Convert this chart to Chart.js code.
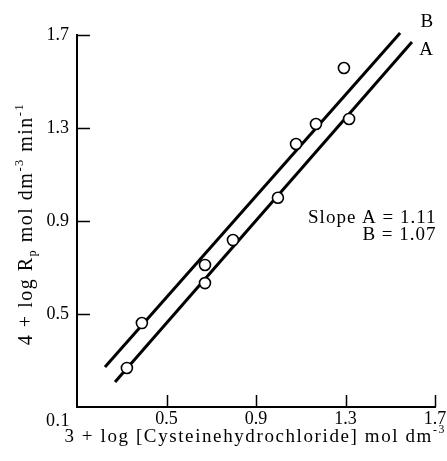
<!DOCTYPE html>
<html>
<head>
<meta charset="utf-8">
<script src="https://cdn.jsdelivr.net/npm/chart.js@4.4.1/dist/chart.umd.min.js"></script>
<style>
  html, body { margin: 0; padding: 0; background: #fff; }
  #wrap { width: 447px; height: 461px; }
</style>
</head>
<body>
<div id="wrap"><canvas id="rpChart" width="447" height="461"></canvas></div>
<script>
// --- DATA ---
const xTicks = [0.1, 0.5, 0.9, 1.3, 1.7];
const yTicks = [0.1, 0.5, 0.9, 1.3, 1.7];

// open circles, series A (lower line) and B (upper line)
const pointsAX = [0.323, 0.672, 0.797, 0.998, 1.316];
const pointsAY = [0.268, 0.633, 0.818, 1.000, 1.339];
const pointsBX = [0.390, 0.672, 1.079, 1.168, 1.293];
const pointsBY = [0.461, 0.711, 1.231, 1.317, 1.558];

// fitted lines, end points
const lineAX = [0.270, 1.597];
const lineAY = [0.208, 1.670];
const lineBX = [0.225, 1.544];
const lineBY = [0.272, 1.709];

const slopeA = '1.11';
const slopeB = '1.07';

const FONT = '"Liberation Serif", "Times New Roman", serif';
const toXY = (xs, ys) => xs.map((x, i) => ({ x, y: ys[i] }));

// --- PLUGINS ---
const inwardTicks = {
    id: 'inwardTicks',
    afterDatasetsDraw(chart) {
        const { ctx, chartArea: a, scales: { x, y } } = chart;
        ctx.save();
        ctx.strokeStyle = '#000';
        ctx.lineWidth = 1.5;
        ctx.beginPath();
        xTicks.slice(1).forEach(v => {
            const px = Math.round(x.getPixelForValue(v)) + 0.5;
            ctx.moveTo(px, a.bottom); ctx.lineTo(px, a.bottom - 12);
        });
        yTicks.slice(1).forEach(v => {
            const py = Math.round(y.getPixelForValue(v)) + 0.5;
            ctx.moveTo(a.left, py); ctx.lineTo(a.left + 13, py);
        });
        ctx.stroke();
        ctx.restore();
    }
};

// text with sub/superscript pieces: [text, shift] where shift 0 normal, -1 sup, 1 sub
function drawRich(ctx, parts, x, y, size) {
    let cx = x;
    parts.forEach(([t, s]) => {
        const fs = s === 0 ? size : size * 0.62;
        ctx.font = `${fs}px ${FONT}`;
        const dy = s === -1 ? -size * 0.45 : (s === 1 ? size * 0.22 : 0);
        ctx.fillText(t, cx, y + dy);
        cx += ctx.measureText(t).width;
    });
    return cx - x;
}

function richWidth(ctx, parts, size) {
    let w = 0;
    parts.forEach(([t, s]) => {
        ctx.font = `${s === 0 ? size : size * 0.62}px ${FONT}`;
        w += ctx.measureText(t).width;
    });
    return w;
}

const labels = {
    id: 'labels',
    afterDraw(chart) {
        const { ctx, chartArea: a, scales: { x, y } } = chart;
        ctx.save();
        ctx.fillStyle = '#000';
        ctx.textBaseline = 'alphabetic';

        // corner tick label shared by both axes
        ctx.letterSpacing = '0.5px';
        ctx.font = `18px ${FONT}`;
        ctx.textAlign = 'center';
        ctx.fillText('0.1', a.left - 19, a.bottom + 19);

        // x title
        ctx.letterSpacing = '1.6px';
        ctx.textAlign = 'left';
        const xParts = [['3 + log [Cysteinehydrochloride] mol dm', 0], ['-3', -1]];
        const xw = richWidth(ctx, xParts, 19);
        drawRich(ctx, xParts, 446 - xw, 442, 19);

        // y title (rotated)
        ctx.letterSpacing = '1.5px';
        const yParts = [['4 + log R', 0], ['p', 1], [' mol dm', 0], ['-3', -1], [' min', 0], ['-1', -1]];
        const yw = richWidth(ctx, yParts, 20);
        ctx.save();
        ctx.translate(32, 224);
        ctx.rotate(-Math.PI / 2);
        drawRich(ctx, yParts, -yw / 2, 0, 20);
        ctx.restore();

        // line labels
        ctx.letterSpacing = '0px';
        ctx.font = `19px ${FONT}`;
        ctx.textAlign = 'center';
        ctx.fillText('B', x.getPixelForValue(1.664), y.getPixelForValue(1.734));
        ctx.fillText('A', x.getPixelForValue(1.660), y.getPixelForValue(1.614));

        // slope note
        ctx.letterSpacing = '1px';
        ctx.textAlign = 'right';
        ctx.fillText('Slope A = ' + slopeA, x.getPixelForValue(1.707), y.getPixelForValue(0.891));
        ctx.fillText('B = ' + slopeB, x.getPixelForValue(1.707), y.getPixelForValue(0.818));
        ctx.restore();
    }
};

// --- CHART ---
const lineStyle = { showLine: true, pointRadius: 0, borderColor: '#000', borderWidth: 3, fill: false };
const pointStyle = { pointRadius: 5.5, pointBackgroundColor: '#fff', pointBorderColor: '#000', pointBorderWidth: 1.6 };

new Chart(document.getElementById('rpChart'), {
    type: 'scatter',
    data: {
        datasets: [
            { label: 'points A', data: toXY(pointsAX, pointsAY), ...pointStyle },
            { label: 'points B', data: toXY(pointsBX, pointsBY), ...pointStyle },
            { label: 'A', data: toXY(lineAX, lineAY), ...lineStyle },
            { label: 'B', data: toXY(lineBX, lineBY), ...lineStyle }
        ]
    },
    options: {
        responsive: false,
        animation: false,
        clip: false,
        layout: { padding: { left: 0, top: 35, right: 12, bottom: 0 } },
        plugins: { legend: { display: false }, tooltip: { enabled: false } },
        scales: {
            x: {
                type: 'linear', min: 0.1, max: 1.7,
                afterFit: s => { s.height = 54; s.paddingLeft = 0; s.paddingRight = 0; },
                afterBuildTicks: s => { s.ticks = xTicks.map(v => ({ value: v })); },
                ticks: {
                    color: '#000', padding: 1, font: { family: FONT, size: 18 },
                    callback: v => (Math.abs(v - 0.1) < 1e-6 ? '' : v.toFixed(1))
                },
                grid: { drawOnChartArea: false, drawTicks: false },
                border: { color: '#000', width: 2 }
            },
            y: {
                type: 'linear', min: 0.1, max: 1.7,
                afterFit: s => { s.width = 77; s.paddingTop = 0; s.paddingBottom = 0; },
                afterBuildTicks: s => { s.ticks = yTicks.map(v => ({ value: v })); },
                ticks: {
                    color: '#000', padding: 8, font: { family: FONT, size: 18 },
                    callback: v => (Math.abs(v - 0.1) < 1e-6 ? '' : v.toFixed(1))
                },
                grid: { drawOnChartArea: false, drawTicks: false },
                border: { color: '#000', width: 2 }
            }
        }
    },
    plugins: [inwardTicks, labels]
});
</script>
</body>
</html>
